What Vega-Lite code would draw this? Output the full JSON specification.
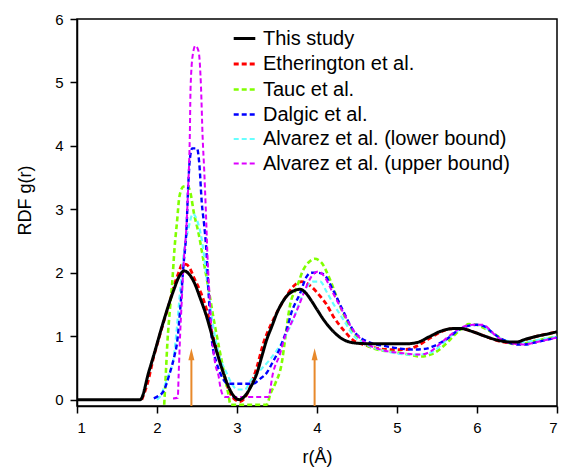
{
  "$schema": "https://vega.github.io/schema/vega-lite/v6.json",
  "width": 480,
  "height": 387,
  "autosize": {"type": "none"},
  "padding": {"left": 77, "top": 19, "right": 6, "bottom": 61},
  "background": "white",
  "config": {
    "font": "Liberation Sans",
    "view": {"stroke": "black", "strokeWidth": 1.5},
    "axis": {
      "domainColor": "black", "domainWidth": 1.5, "ticks": true,
      "tickColor": "black", "tickWidth": 1.5, "tickSize": 7,
      "labelColor": "black", "titleColor": "black",
      "labelFont": "Liberation Sans", "titleFont": "Liberation Sans",
      "labelFontSize": 15, "titleFontSize": 18, "titleFontWeight": "normal",
      "grid": false
    },
    "legend": {
      "labelFont": "Liberation Sans", "labelFontSize": 20, "labelColor": "black", "labelLimit": 0,
      "symbolType": "stroke", "symbolSize": 466, "symbolStrokeWidth": 2,
      "rowPadding": 2.5, "labelOffset": 6, "padding": 0
    }
  },
  "datasets": {
    "curves": [
      {"series": "Etherington et al.", "r": 1.81, "g": 0},
      {"series": "Etherington et al.", "r": 1.88, "g": 0.25},
      {"series": "Etherington et al.", "r": 1.96, "g": 0.68},
      {"series": "Etherington et al.", "r": 2.02, "g": 0.95},
      {"series": "Etherington et al.", "r": 2.08, "g": 1.21},
      {"series": "Etherington et al.", "r": 2.15, "g": 1.5},
      {"series": "Etherington et al.", "r": 2.21, "g": 1.78},
      {"series": "Etherington et al.", "r": 2.27, "g": 2.0},
      {"series": "Etherington et al.", "r": 2.32, "g": 2.14},
      {"series": "Etherington et al.", "r": 2.37, "g": 2.13},
      {"series": "Etherington et al.", "r": 2.41, "g": 2.07},
      {"series": "Etherington et al.", "r": 2.47, "g": 1.9},
      {"series": "Etherington et al.", "r": 2.55, "g": 1.68},
      {"series": "Etherington et al.", "r": 2.62, "g": 1.42},
      {"series": "Etherington et al.", "r": 2.7, "g": 1.0},
      {"series": "Etherington et al.", "r": 2.79, "g": 0.63},
      {"series": "Etherington et al.", "r": 2.87, "g": 0.25},
      {"series": "Etherington et al.", "r": 2.95, "g": 0.03},
      {"series": "Etherington et al.", "r": 3.04, "g": -0.03},
      {"series": "Etherington et al.", "r": 3.1, "g": 0.03},
      {"series": "Etherington et al.", "r": 3.17, "g": 0.22},
      {"series": "Etherington et al.", "r": 3.25, "g": 0.52},
      {"series": "Etherington et al.", "r": 3.33, "g": 0.89},
      {"series": "Etherington et al.", "r": 3.42, "g": 1.17},
      {"series": "Etherington et al.", "r": 3.54, "g": 1.47},
      {"series": "Etherington et al.", "r": 3.62, "g": 1.64},
      {"series": "Etherington et al.", "r": 3.7, "g": 1.78},
      {"series": "Etherington et al.", "r": 3.81, "g": 1.86},
      {"series": "Etherington et al.", "r": 3.93, "g": 1.78},
      {"series": "Etherington et al.", "r": 4.04, "g": 1.63},
      {"series": "Etherington et al.", "r": 4.12, "g": 1.5},
      {"series": "Etherington et al.", "r": 4.2, "g": 1.32},
      {"series": "Etherington et al.", "r": 4.33, "g": 1.1},
      {"series": "Etherington et al.", "r": 4.45, "g": 0.94},
      {"series": "Etherington et al.", "r": 4.6, "g": 0.86},
      {"series": "Etherington et al.", "r": 4.75, "g": 0.81},
      {"series": "Etherington et al.", "r": 4.9, "g": 0.79},
      {"series": "Etherington et al.", "r": 5.1, "g": 0.79},
      {"series": "Etherington et al.", "r": 5.24, "g": 0.84},
      {"series": "Etherington et al.", "r": 5.35, "g": 0.92},
      {"series": "Etherington et al.", "r": 5.45, "g": 1.0},
      {"series": "Etherington et al.", "r": 5.55, "g": 1.07},
      {"series": "Etherington et al.", "r": 5.7, "g": 1.12},
      {"series": "Etherington et al.", "r": 5.8, "g": 1.12},
      {"series": "Etherington et al.", "r": 5.95, "g": 1.07},
      {"series": "Etherington et al.", "r": 6.1, "g": 1.0},
      {"series": "Etherington et al.", "r": 6.25, "g": 0.93},
      {"series": "Etherington et al.", "r": 6.4, "g": 0.9},
      {"series": "Etherington et al.", "r": 6.5, "g": 0.9},
      {"series": "Etherington et al.", "r": 6.6, "g": 0.94},
      {"series": "Etherington et al.", "r": 6.75, "g": 1.0},
      {"series": "Etherington et al.", "r": 6.9, "g": 1.04},
      {"series": "Etherington et al.", "r": 7.0, "g": 1.07},

      {"series": "Tauc et al.", "r": 2.09, "g": -0.08},
      {"series": "Tauc et al.", "r": 2.11, "g": 0.4},
      {"series": "Tauc et al.", "r": 2.13, "g": 0.9},
      {"series": "Tauc et al.", "r": 2.16, "g": 1.4},
      {"series": "Tauc et al.", "r": 2.19, "g": 1.84},
      {"series": "Tauc et al.", "r": 2.22, "g": 2.4},
      {"series": "Tauc et al.", "r": 2.25, "g": 2.8},
      {"series": "Tauc et al.", "r": 2.28, "g": 3.2},
      {"series": "Tauc et al.", "r": 2.33, "g": 3.36},
      {"series": "Tauc et al.", "r": 2.38, "g": 3.37},
      {"series": "Tauc et al.", "r": 2.42, "g": 3.25},
      {"series": "Tauc et al.", "r": 2.46, "g": 2.95},
      {"series": "Tauc et al.", "r": 2.52, "g": 2.62},
      {"series": "Tauc et al.", "r": 2.58, "g": 2.2},
      {"series": "Tauc et al.", "r": 2.64, "g": 1.78},
      {"series": "Tauc et al.", "r": 2.71, "g": 1.26},
      {"series": "Tauc et al.", "r": 2.79, "g": 0.73},
      {"series": "Tauc et al.", "r": 2.85, "g": 0.35},
      {"series": "Tauc et al.", "r": 2.89, "g": 0.1},
      {"series": "Tauc et al.", "r": 2.92, "g": -0.08},
      {"series": "Tauc et al.", "r": 3.37, "g": -0.08},
      {"series": "Tauc et al.", "r": 3.42, "g": 0.1},
      {"series": "Tauc et al.", "r": 3.48, "g": 0.26},
      {"series": "Tauc et al.", "r": 3.56, "g": 0.58},
      {"series": "Tauc et al.", "r": 3.6, "g": 0.94},
      {"series": "Tauc et al.", "r": 3.66, "g": 1.47},
      {"series": "Tauc et al.", "r": 3.75, "g": 1.78},
      {"series": "Tauc et al.", "r": 3.83, "g": 2.05},
      {"series": "Tauc et al.", "r": 3.9, "g": 2.17},
      {"series": "Tauc et al.", "r": 3.97, "g": 2.22},
      {"series": "Tauc et al.", "r": 4.05, "g": 2.17},
      {"series": "Tauc et al.", "r": 4.16, "g": 1.9},
      {"series": "Tauc et al.", "r": 4.29, "g": 1.47},
      {"series": "Tauc et al.", "r": 4.41, "g": 1.15},
      {"series": "Tauc et al.", "r": 4.54, "g": 0.94},
      {"series": "Tauc et al.", "r": 4.7, "g": 0.81},
      {"series": "Tauc et al.", "r": 4.9, "g": 0.76},
      {"series": "Tauc et al.", "r": 5.08, "g": 0.73},
      {"series": "Tauc et al.", "r": 5.29, "g": 0.68},
      {"series": "Tauc et al.", "r": 5.42, "g": 0.71},
      {"series": "Tauc et al.", "r": 5.52, "g": 0.78},
      {"series": "Tauc et al.", "r": 5.62, "g": 0.89},
      {"series": "Tauc et al.", "r": 5.72, "g": 1.02},
      {"series": "Tauc et al.", "r": 5.81, "g": 1.12},
      {"series": "Tauc et al.", "r": 5.9, "g": 1.19},
      {"series": "Tauc et al.", "r": 5.99, "g": 1.18},
      {"series": "Tauc et al.", "r": 6.1, "g": 1.12},
      {"series": "Tauc et al.", "r": 6.2, "g": 1.05},
      {"series": "Tauc et al.", "r": 6.33, "g": 0.94},
      {"series": "Tauc et al.", "r": 6.45, "g": 0.88},
      {"series": "Tauc et al.", "r": 6.55, "g": 0.88},
      {"series": "Tauc et al.", "r": 6.7, "g": 0.92},
      {"series": "Tauc et al.", "r": 6.85, "g": 0.96},
      {"series": "Tauc et al.", "r": 7.0, "g": 0.99},

      {"series": "Alvarez et al. (lower bound)", "r": 2.0, "g": 0.0},
      {"series": "Alvarez et al. (lower bound)", "r": 2.04, "g": 0.05},
      {"series": "Alvarez et al. (lower bound)", "r": 2.09, "g": 0.2},
      {"series": "Alvarez et al. (lower bound)", "r": 2.14, "g": 0.37},
      {"series": "Alvarez et al. (lower bound)", "r": 2.21, "g": 0.68},
      {"series": "Alvarez et al. (lower bound)", "r": 2.25, "g": 1.15},
      {"series": "Alvarez et al. (lower bound)", "r": 2.29, "g": 1.73},
      {"series": "Alvarez et al. (lower bound)", "r": 2.33, "g": 2.26},
      {"series": "Alvarez et al. (lower bound)", "r": 2.39, "g": 2.68},
      {"series": "Alvarez et al. (lower bound)", "r": 2.45, "g": 2.93},
      {"series": "Alvarez et al. (lower bound)", "r": 2.5, "g": 2.83},
      {"series": "Alvarez et al. (lower bound)", "r": 2.56, "g": 2.52},
      {"series": "Alvarez et al. (lower bound)", "r": 2.62, "g": 1.94},
      {"series": "Alvarez et al. (lower bound)", "r": 2.69, "g": 1.26},
      {"series": "Alvarez et al. (lower bound)", "r": 2.77, "g": 0.73},
      {"series": "Alvarez et al. (lower bound)", "r": 2.87, "g": 0.42},
      {"series": "Alvarez et al. (lower bound)", "r": 2.95, "g": 0.22},
      {"series": "Alvarez et al. (lower bound)", "r": 3.0, "g": 0.16},
      {"series": "Alvarez et al. (lower bound)", "r": 3.1, "g": 0.16},
      {"series": "Alvarez et al. (lower bound)", "r": 3.16, "g": 0.28},
      {"series": "Alvarez et al. (lower bound)", "r": 3.28, "g": 0.45},
      {"series": "Alvarez et al. (lower bound)", "r": 3.41, "g": 0.63},
      {"series": "Alvarez et al. (lower bound)", "r": 3.5, "g": 0.78},
      {"series": "Alvarez et al. (lower bound)", "r": 3.58, "g": 0.94},
      {"series": "Alvarez et al. (lower bound)", "r": 3.7, "g": 1.26},
      {"series": "Alvarez et al. (lower bound)", "r": 3.83, "g": 1.68},
      {"series": "Alvarez et al. (lower bound)", "r": 3.95, "g": 1.86},
      {"series": "Alvarez et al. (lower bound)", "r": 4.04, "g": 1.86},
      {"series": "Alvarez et al. (lower bound)", "r": 4.12, "g": 1.7},
      {"series": "Alvarez et al. (lower bound)", "r": 4.2, "g": 1.52},
      {"series": "Alvarez et al. (lower bound)", "r": 4.33, "g": 1.26},
      {"series": "Alvarez et al. (lower bound)", "r": 4.45, "g": 1.02},
      {"series": "Alvarez et al. (lower bound)", "r": 4.62, "g": 0.87},
      {"series": "Alvarez et al. (lower bound)", "r": 4.87, "g": 0.76},
      {"series": "Alvarez et al. (lower bound)", "r": 5.2, "g": 0.71},
      {"series": "Alvarez et al. (lower bound)", "r": 5.35, "g": 0.72},
      {"series": "Alvarez et al. (lower bound)", "r": 5.45, "g": 0.76},
      {"series": "Alvarez et al. (lower bound)", "r": 5.55, "g": 0.86},
      {"series": "Alvarez et al. (lower bound)", "r": 5.65, "g": 0.98},
      {"series": "Alvarez et al. (lower bound)", "r": 5.75, "g": 1.08},
      {"series": "Alvarez et al. (lower bound)", "r": 5.85, "g": 1.15},
      {"series": "Alvarez et al. (lower bound)", "r": 6.0, "g": 1.18},
      {"series": "Alvarez et al. (lower bound)", "r": 6.1, "g": 1.14},
      {"series": "Alvarez et al. (lower bound)", "r": 6.2, "g": 1.04},
      {"series": "Alvarez et al. (lower bound)", "r": 6.3, "g": 0.96},
      {"series": "Alvarez et al. (lower bound)", "r": 6.4, "g": 0.92},
      {"series": "Alvarez et al. (lower bound)", "r": 6.5, "g": 0.9},
      {"series": "Alvarez et al. (lower bound)", "r": 6.6, "g": 0.91},
      {"series": "Alvarez et al. (lower bound)", "r": 6.75, "g": 0.94},
      {"series": "Alvarez et al. (lower bound)", "r": 6.9, "g": 0.97},
      {"series": "Alvarez et al. (lower bound)", "r": 7.0, "g": 0.99},

      {"series": "Dalgic et al.", "r": 1.96, "g": 0.02},
      {"series": "Dalgic et al.", "r": 2.02, "g": 0.06},
      {"series": "Dalgic et al.", "r": 2.08, "g": 0.13},
      {"series": "Dalgic et al.", "r": 2.16, "g": 0.42},
      {"series": "Dalgic et al.", "r": 2.22, "g": 0.7},
      {"series": "Dalgic et al.", "r": 2.25, "g": 0.89},
      {"series": "Dalgic et al.", "r": 2.29, "g": 1.42},
      {"series": "Dalgic et al.", "r": 2.33, "g": 2.1},
      {"series": "Dalgic et al.", "r": 2.37, "g": 2.73},
      {"series": "Dalgic et al.", "r": 2.39, "g": 3.36},
      {"series": "Dalgic et al.", "r": 2.41, "g": 3.78},
      {"series": "Dalgic et al.", "r": 2.44, "g": 3.96},
      {"series": "Dalgic et al.", "r": 2.5, "g": 3.96},
      {"series": "Dalgic et al.", "r": 2.53, "g": 3.7},
      {"series": "Dalgic et al.", "r": 2.56, "g": 3.1},
      {"series": "Dalgic et al.", "r": 2.59, "g": 2.75},
      {"series": "Dalgic et al.", "r": 2.62, "g": 2.3},
      {"series": "Dalgic et al.", "r": 2.65, "g": 1.57},
      {"series": "Dalgic et al.", "r": 2.69, "g": 0.89},
      {"series": "Dalgic et al.", "r": 2.74, "g": 0.6},
      {"series": "Dalgic et al.", "r": 2.79, "g": 0.42},
      {"series": "Dalgic et al.", "r": 2.86, "g": 0.27},
      {"series": "Dalgic et al.", "r": 2.9, "g": 0.25},
      {"series": "Dalgic et al.", "r": 3.2, "g": 0.25},
      {"series": "Dalgic et al.", "r": 3.28, "g": 0.32},
      {"series": "Dalgic et al.", "r": 3.37, "g": 0.42},
      {"series": "Dalgic et al.", "r": 3.45, "g": 0.6},
      {"series": "Dalgic et al.", "r": 3.54, "g": 0.82},
      {"series": "Dalgic et al.", "r": 3.62, "g": 1.1},
      {"series": "Dalgic et al.", "r": 3.68, "g": 1.37},
      {"series": "Dalgic et al.", "r": 3.79, "g": 1.68},
      {"series": "Dalgic et al.", "r": 3.87, "g": 1.94},
      {"series": "Dalgic et al.", "r": 3.93, "g": 2.0},
      {"series": "Dalgic et al.", "r": 4.0, "g": 2.0},
      {"series": "Dalgic et al.", "r": 4.08, "g": 1.98},
      {"series": "Dalgic et al.", "r": 4.2, "g": 1.73},
      {"series": "Dalgic et al.", "r": 4.33, "g": 1.39},
      {"series": "Dalgic et al.", "r": 4.45, "g": 1.1},
      {"series": "Dalgic et al.", "r": 4.62, "g": 0.92},
      {"series": "Dalgic et al.", "r": 4.87, "g": 0.84},
      {"series": "Dalgic et al.", "r": 5.2, "g": 0.79},
      {"series": "Dalgic et al.", "r": 5.35, "g": 0.8},
      {"series": "Dalgic et al.", "r": 5.45, "g": 0.84},
      {"series": "Dalgic et al.", "r": 5.55, "g": 0.9},
      {"series": "Dalgic et al.", "r": 5.65, "g": 0.98},
      {"series": "Dalgic et al.", "r": 5.75, "g": 1.08},
      {"series": "Dalgic et al.", "r": 5.85, "g": 1.15},
      {"series": "Dalgic et al.", "r": 6.0, "g": 1.18},
      {"series": "Dalgic et al.", "r": 6.1, "g": 1.15},
      {"series": "Dalgic et al.", "r": 6.2, "g": 1.05},
      {"series": "Dalgic et al.", "r": 6.3, "g": 0.96},
      {"series": "Dalgic et al.", "r": 6.37, "g": 0.92},
      {"series": "Dalgic et al.", "r": 6.5, "g": 0.87},
      {"series": "Dalgic et al.", "r": 6.6, "g": 0.87},
      {"series": "Dalgic et al.", "r": 6.75, "g": 0.91},
      {"series": "Dalgic et al.", "r": 6.9, "g": 0.95},
      {"series": "Dalgic et al.", "r": 7.0, "g": 0.98},

      {"series": "Alvarez et al. (upper bound)", "r": 2.2, "g": 0.02},
      {"series": "Alvarez et al. (upper bound)", "r": 2.26, "g": 0.03},
      {"series": "Alvarez et al. (upper bound)", "r": 2.27, "g": 0.37},
      {"series": "Alvarez et al. (upper bound)", "r": 2.29, "g": 1.05},
      {"series": "Alvarez et al. (upper bound)", "r": 2.31, "g": 1.57},
      {"series": "Alvarez et al. (upper bound)", "r": 2.33, "g": 2.1},
      {"series": "Alvarez et al. (upper bound)", "r": 2.37, "g": 2.78},
      {"series": "Alvarez et al. (upper bound)", "r": 2.39, "g": 3.36},
      {"series": "Alvarez et al. (upper bound)", "r": 2.41, "g": 4.15},
      {"series": "Alvarez et al. (upper bound)", "r": 2.42, "g": 4.93},
      {"series": "Alvarez et al. (upper bound)", "r": 2.45, "g": 5.46},
      {"series": "Alvarez et al. (upper bound)", "r": 2.48, "g": 5.58},
      {"series": "Alvarez et al. (upper bound)", "r": 2.52, "g": 5.49},
      {"series": "Alvarez et al. (upper bound)", "r": 2.55, "g": 4.93},
      {"series": "Alvarez et al. (upper bound)", "r": 2.57, "g": 4.15},
      {"series": "Alvarez et al. (upper bound)", "r": 2.59, "g": 3.62},
      {"series": "Alvarez et al. (upper bound)", "r": 2.61, "g": 3.0},
      {"series": "Alvarez et al. (upper bound)", "r": 2.63, "g": 2.3},
      {"series": "Alvarez et al. (upper bound)", "r": 2.66, "g": 1.57},
      {"series": "Alvarez et al. (upper bound)", "r": 2.69, "g": 0.95},
      {"series": "Alvarez et al. (upper bound)", "r": 2.73, "g": 0.55},
      {"series": "Alvarez et al. (upper bound)", "r": 2.77, "g": 0.37},
      {"series": "Alvarez et al. (upper bound)", "r": 2.79, "g": 0.21},
      {"series": "Alvarez et al. (upper bound)", "r": 2.83, "g": 0.06},
      {"series": "Alvarez et al. (upper bound)", "r": 2.86, "g": 0.04},
      {"series": "Alvarez et al. (upper bound)", "r": 3.39, "g": 0.04},
      {"series": "Alvarez et al. (upper bound)", "r": 3.45, "g": 0.42},
      {"series": "Alvarez et al. (upper bound)", "r": 3.54, "g": 0.73},
      {"series": "Alvarez et al. (upper bound)", "r": 3.6, "g": 1.0},
      {"series": "Alvarez et al. (upper bound)", "r": 3.68, "g": 1.21},
      {"series": "Alvarez et al. (upper bound)", "r": 3.77, "g": 1.47},
      {"series": "Alvarez et al. (upper bound)", "r": 3.85, "g": 1.73},
      {"series": "Alvarez et al. (upper bound)", "r": 3.93, "g": 1.94},
      {"series": "Alvarez et al. (upper bound)", "r": 4.02, "g": 2.02},
      {"series": "Alvarez et al. (upper bound)", "r": 4.08, "g": 1.96},
      {"series": "Alvarez et al. (upper bound)", "r": 4.2, "g": 1.68},
      {"series": "Alvarez et al. (upper bound)", "r": 4.33, "g": 1.37},
      {"series": "Alvarez et al. (upper bound)", "r": 4.45, "g": 1.1},
      {"series": "Alvarez et al. (upper bound)", "r": 4.58, "g": 0.92},
      {"series": "Alvarez et al. (upper bound)", "r": 4.79, "g": 0.79},
      {"series": "Alvarez et al. (upper bound)", "r": 5.08, "g": 0.73},
      {"series": "Alvarez et al. (upper bound)", "r": 5.29, "g": 0.71},
      {"series": "Alvarez et al. (upper bound)", "r": 5.42, "g": 0.76},
      {"series": "Alvarez et al. (upper bound)", "r": 5.52, "g": 0.86},
      {"series": "Alvarez et al. (upper bound)", "r": 5.62, "g": 0.97},
      {"series": "Alvarez et al. (upper bound)", "r": 5.72, "g": 1.07},
      {"series": "Alvarez et al. (upper bound)", "r": 5.83, "g": 1.15},
      {"series": "Alvarez et al. (upper bound)", "r": 5.95, "g": 1.18},
      {"series": "Alvarez et al. (upper bound)", "r": 6.08, "g": 1.18},
      {"series": "Alvarez et al. (upper bound)", "r": 6.16, "g": 1.1},
      {"series": "Alvarez et al. (upper bound)", "r": 6.24, "g": 1.0},
      {"series": "Alvarez et al. (upper bound)", "r": 6.33, "g": 0.93},
      {"series": "Alvarez et al. (upper bound)", "r": 6.41, "g": 0.89},
      {"series": "Alvarez et al. (upper bound)", "r": 6.58, "g": 0.87},
      {"series": "Alvarez et al. (upper bound)", "r": 6.75, "g": 0.91},
      {"series": "Alvarez et al. (upper bound)", "r": 6.9, "g": 0.95},
      {"series": "Alvarez et al. (upper bound)", "r": 7.0, "g": 0.98},

      {"series": "This study", "r": 1.0, "g": 0},
      {"series": "This study", "r": 1.79, "g": 0},
      {"series": "This study", "r": 1.9, "g": 0.45},
      {"series": "This study", "r": 1.98, "g": 0.79},
      {"series": "This study", "r": 2.05, "g": 1.1},
      {"series": "This study", "r": 2.1, "g": 1.31},
      {"series": "This study", "r": 2.16, "g": 1.55},
      {"series": "This study", "r": 2.21, "g": 1.73},
      {"series": "This study", "r": 2.28, "g": 1.95},
      {"series": "This study", "r": 2.34, "g": 2.03},
      {"series": "This study", "r": 2.4, "g": 1.98},
      {"series": "This study", "r": 2.46, "g": 1.86},
      {"series": "This study", "r": 2.54, "g": 1.6},
      {"series": "This study", "r": 2.62, "g": 1.31},
      {"series": "This study", "r": 2.69, "g": 1.0},
      {"series": "This study", "r": 2.75, "g": 0.74},
      {"series": "This study", "r": 2.83, "g": 0.42},
      {"series": "This study", "r": 2.91, "g": 0.16},
      {"series": "This study", "r": 2.97, "g": 0.04},
      {"series": "This study", "r": 3.03, "g": 0.0},
      {"series": "This study", "r": 3.1, "g": 0.06},
      {"series": "This study", "r": 3.18, "g": 0.22},
      {"series": "This study", "r": 3.25, "g": 0.42},
      {"series": "This study", "r": 3.31, "g": 0.68},
      {"series": "This study", "r": 3.37, "g": 0.94},
      {"series": "This study", "r": 3.44, "g": 1.17},
      {"series": "This study", "r": 3.5, "g": 1.37},
      {"series": "This study", "r": 3.56, "g": 1.52},
      {"series": "This study", "r": 3.62, "g": 1.63},
      {"series": "This study", "r": 3.7, "g": 1.71},
      {"series": "This study", "r": 3.79, "g": 1.74},
      {"series": "This study", "r": 3.86, "g": 1.68},
      {"series": "This study", "r": 3.93, "g": 1.56},
      {"series": "This study", "r": 4.0, "g": 1.42},
      {"series": "This study", "r": 4.1, "g": 1.23},
      {"series": "This study", "r": 4.2, "g": 1.08},
      {"series": "This study", "r": 4.3, "g": 0.97},
      {"series": "This study", "r": 4.4, "g": 0.91},
      {"series": "This study", "r": 4.5, "g": 0.89},
      {"series": "This study", "r": 4.7, "g": 0.88},
      {"series": "This study", "r": 4.9, "g": 0.88},
      {"series": "This study", "r": 5.1, "g": 0.88},
      {"series": "This study", "r": 5.25, "g": 0.9},
      {"series": "This study", "r": 5.4, "g": 0.99},
      {"series": "This study", "r": 5.55, "g": 1.08},
      {"series": "This study", "r": 5.7, "g": 1.12},
      {"series": "This study", "r": 5.8, "g": 1.12},
      {"series": "This study", "r": 5.95, "g": 1.07},
      {"series": "This study", "r": 6.1, "g": 1.0},
      {"series": "This study", "r": 6.25, "g": 0.94},
      {"series": "This study", "r": 6.4, "g": 0.91},
      {"series": "This study", "r": 6.5, "g": 0.91},
      {"series": "This study", "r": 6.6, "g": 0.95},
      {"series": "This study", "r": 6.75, "g": 1.0},
      {"series": "This study", "r": 6.9, "g": 1.04},
      {"series": "This study", "r": 7.0, "g": 1.07}
    ],
    "arrows": [
      {"r": 2.43, "g": -0.1, "g2": 0.66, "tip": 0.715},
      {"r": 3.97, "g": -0.1, "g2": 0.66, "tip": 0.715}
    ]
  },
  "layer": [
    {
      "data": {"name": "curves"},
      "mark": {"type": "line", "interpolate": "monotone"},
      "encoding": {
        "x": {
          "field": "r", "type": "quantitative",
          "scale": {"domain": [1, 7], "nice": false, "zero": false},
          "axis": {
            "title": "r(Å)",
            "values": [1, 1.5, 2, 2.5, 3, 3.5, 4, 4.5, 5, 5.5, 6, 6.5, 7],
            "labelExpr": "datum.value % 1 === 0 ? format(datum.value, 'd') : ''",
            "tickDash": {"condition": {"test": "datum.value % 1 === 0", "value": [100, 0]}, "value": [4, 20]},
            "labelPadding": 7, "titlePadding": 13
          }
        },
        "y": {
          "field": "g", "type": "quantitative",
          "scale": {"domain": [-0.1, 6], "nice": false, "zero": false},
          "axis": {
            "title": "RDF g(r)",
            "values": [0, 0.5, 1, 1.5, 2, 2.5, 3, 3.5, 4, 4.5, 5, 5.5, 6],
            "labelExpr": "datum.value % 1 === 0 ? format(datum.value, 'd') : ''",
            "labelPadding": 7,
            "titleX": -52, "titleY": 181, "titleBaseline": "middle"
          }
        },
        "color": {
          "field": "series", "type": "nominal",
          "scale": {
            "domain": ["This study", "Etherington et al.", "Tauc et al.", "Dalgic et al.", "Alvarez et al. (lower bound)", "Alvarez et al. (upper bound)"],
            "range": ["#000000", "#FF0000", "#80FF00", "#0000FF", "#66FFFF", "#DD00FF"]
          },
          "legend": {"title": null, "orient": "none", "legendX": 155, "legendY": 7}
        },
        "strokeDash": {
          "field": "series", "type": "nominal",
          "scale": {
            "domain": ["This study", "Etherington et al.", "Tauc et al.", "Dalgic et al.", "Alvarez et al. (lower bound)", "Alvarez et al. (upper bound)"],
            "range": [[1, 0], [5, 3], [5, 3], [5, 3], [5, 3], [5, 3]]
          },
          "legend": {"title": null, "orient": "none", "legendX": 155, "legendY": 7}
        },
        "strokeWidth": {
          "field": "series", "type": "nominal",
          "scale": {
            "domain": ["This study", "Etherington et al.", "Tauc et al.", "Dalgic et al.", "Alvarez et al. (lower bound)", "Alvarez et al. (upper bound)"],
            "range": [3, 2, 2, 2, 2, 2]
          },
          "legend": {"title": null, "orient": "none", "legendX": 155, "legendY": 7}
        }
      }
    },
    {
      "data": {"name": "arrows"},
      "mark": {"type": "rule", "color": "#E8892B", "strokeWidth": 2},
      "encoding": {
        "x": {"field": "r", "type": "quantitative"},
        "y": {"field": "g", "type": "quantitative"},
        "y2": {"field": "g2"}
      }
    },
    {
      "data": {"name": "arrows"},
      "mark": {"type": "point", "shape": "M0,-1L0.5,1L-0.5,1Z", "filled": true, "color": "#E8892B", "opacity": 1, "size": 144},
      "encoding": {
        "x": {"field": "r", "type": "quantitative"},
        "y": {"field": "tip", "type": "quantitative"}
      }
    }
  ]
}
